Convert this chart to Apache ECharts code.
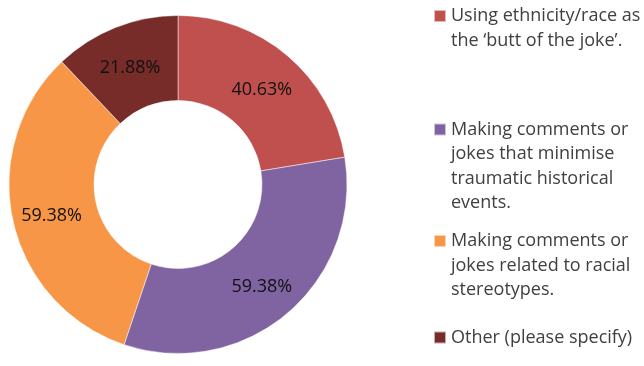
<!DOCTYPE html>
<html>
<head>
<meta charset="utf-8">
<script src="https://cdn.jsdelivr.net/npm/echarts@6/dist/echarts.min.js"></script>
<style>
  html, body { margin: 0; padding: 0; background: #fff; }
  #chart { width: 644px; height: 366px; }
</style>
</head>
<body>
<div id="chart"></div>
<script>
// Response categories and the share of respondents choosing each (%)
const categories = [
  'Using ethnicity/race as the \u2018butt of the joke\u2019.',
  'Making comments or jokes that minimise traumatic historical events.',
  'Making comments or jokes related to racial stereotypes.',
  'Other (please specify)'
];
const values = [40.63, 59.38, 59.38, 21.88];

// Legend text, wrapped the way it is shown
const legendLines = [
  ['Using ethnicity/race as', 'the \u2018butt of the joke\u2019.'],
  ['Making comments or', 'jokes that minimise', 'traumatic historical', 'events.'],
  ['Making comments or', 'jokes related to racial', 'stereotypes.'],
  ['Other (please specify)']
];

const colors = ['#C0504D', '#8064A2', '#F79646', '#772C2A'];
const FONT = 'Open Sans';
const LINE_H = 24.5;
// vertical centre of each legend key square
const legendIconY = [16, 129.5, 241, 337.5];

// Each entry gets its own legend so the key sits beside the first text line:
// blank lines ahead of the text keep the first real line level with the key.
const legends = categories.map((name, i) => {
  const n = legendLines[i].length;
  const lead = new Array(n - 1).fill('');
  return {
    data: [name],
    orient: 'vertical',
    left: 433,
    top: legendIconY[i] - (2 * n - 1) * LINE_H / 2,
    padding: 0,
    itemWidth: 12,
    itemHeight: 12,
    itemGap: 0,
    icon: 'rect',
    selectedMode: false,
    formatter: () => lead.concat(legendLines[i]).join('\n'),
    textStyle: {
      fontFamily: FONT,
      fontSize: 18,
      color: '#404040',
      lineHeight: LINE_H
    }
  };
});

const chart = echarts.init(document.getElementById('chart'), null, { renderer: 'canvas' });
chart.setOption({
  animation: false,
  color: colors,
  legend: legends,
  series: [{
    type: 'pie',
    center: [178, 184.5],
    radius: [84, 169],
    startAngle: 90,
    clockwise: true,
    avoidLabelOverlap: false,
    itemStyle: { borderColor: 'rgba(255,255,255,0.6)', borderWidth: 0.8 },
    label: {
      show: true,
      position: 'inside',
      offset: [0, 4],
      fontFamily: FONT,
      fontSize: 18,
      color: '#111',
      formatter: p => p.value.toFixed(2) + '%'
    },
    labelLine: { show: false },
    emphasis: { disabled: true },
    data: categories.map((name, i) => ({ name, value: values[i] }))
  }]
});
</script>
</body>
</html>
